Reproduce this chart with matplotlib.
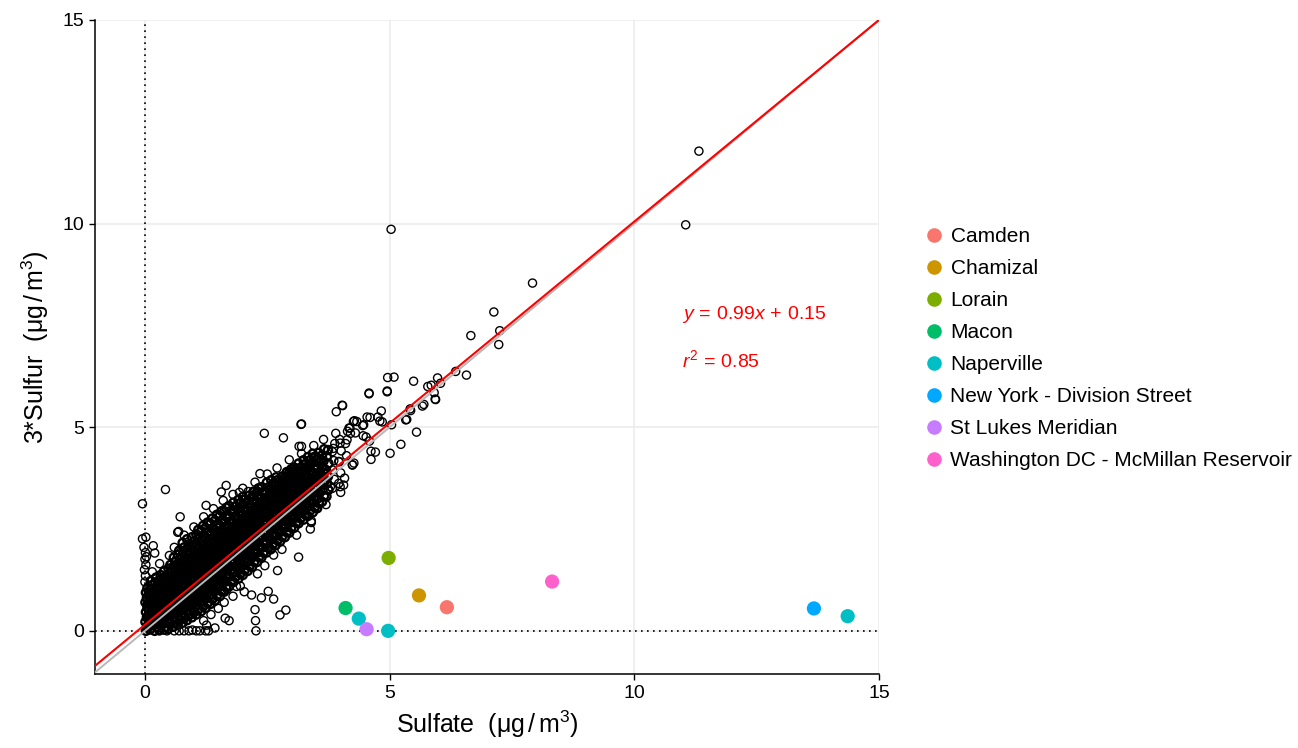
import matplotlib
matplotlib.use("Agg")
import matplotlib.pyplot as plt
from matplotlib.lines import Line2D

plt.rcParams['font.family'] = ['Liberation Sans', 'DejaVu Sans']
plt.rcParams['mathtext.fontset'] = 'custom'
plt.rcParams['mathtext.rm'] = 'Liberation Sans'
plt.rcParams['mathtext.it'] = 'Liberation Sans:italic'
plt.rcParams['mathtext.bf'] = 'Liberation Sans:bold'

# ---------------- data ----------------
# dense band of daily samples, by sulfate range
band_low = [
    (0.02,0.0),(0.05,0.1),(0.01,0.22),(0.04,0.33),(0.02,0.46),(0.05,0.57),(0.01,0.7),(0.04,0.81),(0.02,0.94),(0.05,1.05),
    (0.10,0.03),(0.14,0.15),(0.11,0.27),(0.13,0.4),(0.09,0.52),(0.14,0.64),(0.11,0.77),(0.13,0.89),(0.10,1.0),(0.14,1.12),(0.12,1.22),
    (0.20,0.0),(0.24,0.09),(0.21,0.21),(0.23,0.34),(0.19,0.46),(0.24,0.58),(0.21,0.7),(0.23,0.83),(0.20,0.95),(0.24,1.07),(0.21,1.19),(0.23,1.31),
    (0.29,0.02),(0.33,0.14),(0.30,0.26),(0.32,0.39),(0.28,0.51),(0.33,0.63),(0.30,0.75),(0.32,0.88),(0.29,1.0),(0.33,1.12),(0.30,1.25),(0.32,1.37),
    (0.39,0.03),(0.43,0.1),(0.40,0.22),(0.42,0.35),(0.38,0.47),(0.43,0.59),(0.40,0.71),(0.42,0.84),(0.39,0.96),(0.43,1.08),(0.40,1.21),(0.42,1.33),(0.39,1.46),
    (0.48,0.05),(0.52,0.17),(0.49,0.29),(0.51,0.42),(0.47,0.54),(0.52,0.66),(0.49,0.79),(0.51,0.91),(0.48,1.03),(0.52,1.16),(0.49,1.28),(0.51,1.41),(0.48,1.53),(0.52,1.62),
    (0.58,0.1),(0.62,0.21),(0.59,0.33),(0.61,0.46),(0.57,0.58),(0.62,0.7),(0.59,0.83),(0.61,0.95),(0.58,1.07),(0.62,1.2),(0.59,1.32),(0.61,1.45),(0.58,1.57),(0.62,1.69),(0.59,1.8),
    (0.67,0.15),(0.71,0.27),(0.68,0.39),(0.70,0.52),(0.66,0.64),(0.71,0.76),(0.68,0.89),(0.70,1.01),(0.67,1.13),(0.71,1.26),(0.68,1.38),(0.70,1.51),(0.67,1.63),(0.71,1.75),(0.68,1.87),(0.70,1.97),
    (0.77,0.2),(0.81,0.32),(0.78,0.44),(0.80,0.57),(0.76,0.69),(0.81,0.81),(0.78,0.94),(0.80,1.06),(0.77,1.18),(0.81,1.31),(0.78,1.43),(0.80,1.56),(0.77,1.68),(0.81,1.8),(0.78,1.93),(0.80,2.05),(0.77,2.16),
    (0.86,0.26),(0.90,0.38),(0.87,0.5),(0.89,0.63),(0.85,0.75),(0.90,0.87),(0.87,1.0),(0.89,1.12),(0.86,1.24),(0.90,1.37),(0.87,1.49),(0.89,1.62),(0.86,1.74),(0.90,1.86),(0.87,1.99),(0.89,2.11),(0.86,2.25),
    (0.96,0.33),(1.00,0.45),(0.97,0.57),(0.99,0.7),(0.95,0.82),(1.00,0.94),(0.97,1.07),(0.99,1.19),(0.96,1.31),(1.00,1.44),(0.97,1.56),(0.99,1.69),(0.96,1.81),(1.00,1.93),(0.97,2.06),(0.99,2.18),(0.96,2.3),
]
band_mid = [
    (1.05,0.4),(1.09,0.52),(1.06,0.64),(1.08,0.77),(1.04,0.89),(1.09,1.01),(1.06,1.14),(1.08,1.26),(1.05,1.38),(1.09,1.51),(1.06,1.63),(1.08,1.76),(1.05,1.88),(1.09,2.0),(1.06,2.13),(1.08,2.25),(1.05,2.37),(1.09,2.48),
    (1.15,0.48),(1.19,0.6),(1.16,0.72),(1.18,0.85),(1.14,0.97),(1.19,1.09),(1.16,1.22),(1.18,1.34),(1.15,1.46),(1.19,1.59),(1.16,1.71),(1.18,1.84),(1.15,1.96),(1.19,2.08),(1.16,2.21),(1.18,2.33),(1.15,2.45),(1.19,2.58),
    (1.24,0.56),(1.28,0.68),(1.25,0.8),(1.27,0.93),(1.23,1.05),(1.28,1.17),(1.25,1.3),(1.27,1.42),(1.24,1.54),(1.28,1.67),(1.25,1.79),(1.27,1.92),(1.24,2.04),(1.28,2.16),(1.25,2.29),(1.27,2.41),(1.24,2.53),(1.28,2.66),
    (1.34,0.66),(1.38,0.78),(1.35,0.9),(1.37,1.03),(1.33,1.15),(1.38,1.27),(1.35,1.4),(1.37,1.52),(1.34,1.64),(1.38,1.77),(1.35,1.89),(1.37,2.02),(1.34,2.14),(1.38,2.26),(1.35,2.39),(1.37,2.51),(1.34,2.63),(1.38,2.76),
    (1.43,0.74),(1.47,0.86),(1.44,0.98),(1.46,1.11),(1.42,1.23),(1.47,1.35),(1.44,1.48),(1.46,1.6),(1.43,1.72),(1.47,1.85),(1.44,1.97),(1.46,2.1),(1.43,2.22),(1.47,2.34),(1.44,2.47),(1.46,2.59),(1.43,2.71),(1.47,2.85),
    (1.53,0.85),(1.57,0.97),(1.54,1.09),(1.56,1.22),(1.52,1.34),(1.57,1.46),(1.54,1.59),(1.56,1.71),(1.53,1.83),(1.57,1.96),(1.54,2.08),(1.56,2.21),(1.53,2.33),(1.57,2.45),(1.54,2.58),(1.56,2.7),(1.53,2.82),(1.57,2.94),
    (1.62,0.96),(1.66,1.08),(1.63,1.2),(1.65,1.33),(1.61,1.45),(1.66,1.57),(1.63,1.7),(1.65,1.82),(1.62,1.94),(1.66,2.07),(1.63,2.19),(1.65,2.32),(1.62,2.44),(1.66,2.56),(1.63,2.69),(1.65,2.81),(1.62,2.93),(1.66,3.02),
    (1.72,1.09),(1.76,1.21),(1.73,1.33),(1.75,1.46),(1.71,1.58),(1.76,1.7),(1.73,1.83),(1.75,1.95),(1.72,2.07),(1.76,2.2),(1.73,2.32),(1.75,2.45),(1.72,2.57),(1.76,2.69),(1.73,2.82),(1.75,2.94),(1.72,3.07),
    (1.81,1.2),(1.85,1.32),(1.82,1.44),(1.84,1.57),(1.80,1.69),(1.85,1.81),(1.82,1.94),(1.84,2.06),(1.81,2.18),(1.85,2.31),(1.82,2.43),(1.84,2.56),(1.81,2.68),(1.85,2.8),(1.82,2.93),(1.84,3.05),(1.81,3.15),
    (1.91,1.28),(1.95,1.4),(1.92,1.52),(1.94,1.65),(1.90,1.77),(1.95,1.89),(1.92,2.02),(1.94,2.14),(1.91,2.26),(1.95,2.39),(1.92,2.51),(1.94,2.64),(1.91,2.76),(1.95,2.88),(1.92,3.01),(1.94,3.13),(1.91,3.22),
    (2.00,1.37),(2.04,1.49),(2.01,1.61),(2.03,1.74),(1.99,1.86),(2.04,1.98),(2.01,2.11),(2.03,2.23),(2.00,2.35),(2.04,2.48),(2.01,2.6),(2.03,2.73),(2.00,2.85),(2.04,2.97),(2.01,3.1),(2.03,3.22),(2.00,3.29),
]
band_high = [
    (2.10,1.47),(2.14,1.59),(2.11,1.71),(2.13,1.84),(2.09,1.96),(2.14,2.08),(2.11,2.21),(2.13,2.33),(2.10,2.45),(2.14,2.58),(2.11,2.7),(2.13,2.83),(2.10,2.95),(2.14,3.07),(2.11,3.2),(2.13,3.32),
    (2.19,1.57),(2.23,1.69),(2.20,1.81),(2.22,1.94),(2.18,2.06),(2.23,2.18),(2.20,2.31),(2.22,2.43),(2.19,2.55),(2.23,2.68),(2.20,2.8),(2.22,2.93),(2.19,3.05),(2.23,3.17),(2.20,3.3),(2.22,3.42),
    (2.29,1.69),(2.33,1.81),(2.30,1.93),(2.32,2.06),(2.28,2.18),(2.33,2.3),(2.30,2.43),(2.32,2.55),(2.29,2.67),(2.33,2.8),(2.30,2.92),(2.32,3.05),(2.29,3.17),(2.33,3.29),(2.30,3.42),(2.32,3.5),
    (2.38,1.8),(2.42,1.92),(2.39,2.04),(2.41,2.17),(2.37,2.29),(2.42,2.41),(2.39,2.54),(2.41,2.66),(2.38,2.78),(2.42,2.91),(2.39,3.03),(2.41,3.16),(2.38,3.28),(2.42,3.4),(2.39,3.53),
    (2.48,1.92),(2.52,2.04),(2.49,2.16),(2.51,2.29),(2.47,2.41),(2.52,2.53),(2.49,2.66),(2.51,2.78),(2.48,2.9),(2.52,3.03),(2.49,3.15),(2.51,3.28),(2.48,3.4),(2.52,3.52),(2.49,3.64),
    (2.57,2.0),(2.61,2.12),(2.58,2.24),(2.60,2.37),(2.56,2.49),(2.61,2.61),(2.58,2.74),(2.60,2.86),(2.57,2.98),(2.61,3.11),(2.58,3.23),(2.60,3.36),(2.57,3.48),(2.61,3.6),(2.58,3.7),
    (2.67,2.1),(2.71,2.22),(2.68,2.34),(2.70,2.47),(2.66,2.59),(2.71,2.71),(2.68,2.84),(2.70,2.96),(2.67,3.08),(2.71,3.21),(2.68,3.33),(2.70,3.46),(2.67,3.58),(2.71,3.7),(2.68,3.77),
    (2.76,2.19),(2.80,2.31),(2.77,2.43),(2.79,2.56),(2.75,2.68),(2.80,2.8),(2.77,2.93),(2.79,3.05),(2.76,3.17),(2.80,3.3),(2.77,3.42),(2.79,3.55),(2.76,3.67),(2.80,3.79),
    (2.86,2.3),(2.90,2.42),(2.87,2.54),(2.89,2.67),(2.85,2.79),(2.90,2.91),(2.87,3.04),(2.89,3.16),(2.86,3.28),(2.90,3.41),(2.87,3.53),(2.89,3.66),(2.86,3.78),(2.90,3.9),
    (2.95,2.41),(2.99,2.53),(2.96,2.65),(2.98,2.78),(2.94,2.9),(2.99,3.02),(2.96,3.15),(2.98,3.27),(2.95,3.39),(2.99,3.52),(2.96,3.64),(2.98,3.77),(2.95,3.89),(2.99,3.97),
    (3.05,2.53),(3.09,2.65),(3.06,2.77),(3.08,2.9),(3.04,3.02),(3.09,3.14),(3.06,3.27),(3.08,3.39),(3.05,3.51),(3.09,3.64),(3.06,3.76),(3.08,3.89),(3.05,4.01),
    (3.14,2.64),(3.18,2.76),(3.15,2.88),(3.17,3.01),(3.13,3.13),(3.18,3.25),(3.15,3.38),(3.17,3.5),(3.14,3.62),(3.18,3.75),(3.15,3.87),(3.17,4.0),(3.14,4.11),
    (3.24,2.73),(3.28,2.85),(3.25,2.97),(3.27,3.1),(3.23,3.22),(3.28,3.34),(3.25,3.47),(3.27,3.59),(3.24,3.71),(3.28,3.84),(3.25,3.96),(3.27,4.09),(3.24,4.19),
    (3.33,2.82),(3.37,2.94),(3.34,3.06),(3.36,3.19),(3.32,3.31),(3.37,3.43),(3.34,3.56),(3.36,3.68),(3.33,3.8),(3.37,3.93),(3.34,4.05),(3.36,4.18),(3.33,4.27),
    (3.43,2.91),(3.47,3.03),(3.44,3.15),(3.46,3.28),(3.42,3.4),(3.47,3.52),(3.44,3.65),(3.46,3.77),(3.43,3.89),(3.47,4.02),(3.44,4.14),(3.46,4.27),(3.43,4.35),
    (3.52,3.01),(3.56,3.13),(3.53,3.25),(3.55,3.38),(3.51,3.5),(3.56,3.62),(3.53,3.75),(3.55,3.87),(3.52,3.99),(3.56,4.12),(3.53,4.24),(3.55,4.37),
    (3.62,3.17),(3.66,3.31),(3.63,3.45),(3.65,3.6),(3.61,3.74),(3.66,3.88),(3.63,4.03),(3.65,4.17),(3.62,4.31),(3.66,4.46),
    (3.71,3.3),(3.75,3.46),(3.72,3.62),(3.74,3.79),(3.70,3.95),(3.75,4.11),(3.72,4.28),(3.74,4.44),
]
# extra samples in the darkest part of the band
band_core = [
    (0.16,0.35),(0.18,0.6),(0.26,0.5),(0.27,0.8),(0.36,0.45),(0.36,0.75),(0.45,0.5),(0.45,0.95),(0.55,0.6),(0.55,1.0),(0.64,0.7),(0.64,1.1),
    (0.73,0.8),(0.74,1.25),(0.83,0.9),(0.84,1.35),(0.93,1.0),(0.92,1.5),(1.02,1.1),(1.02,1.6),(1.12,1.2),(1.11,1.7),(1.21,1.3),(1.21,1.85),
    (1.30,1.45),(1.31,1.95),(1.40,1.55),(1.40,2.05),(1.50,1.65),(1.49,2.15),(1.59,1.75),(1.60,2.25),(1.69,1.9),(1.68,2.4),(1.78,2.0),(1.79,2.5),
    (1.88,2.1),(1.87,2.6),(1.97,2.2),(1.98,2.7),(2.07,2.3),(2.06,2.8),(2.16,2.4),(2.17,2.9),(2.26,2.5),(2.25,3.0),(2.35,2.6),(2.36,3.1),
    (2.45,2.7),(2.44,3.2),(2.54,2.8),(2.55,3.3),(2.64,2.9),(2.63,3.4),(2.73,3.0),(2.74,3.5),(2.83,3.1),(2.82,3.6),(2.92,3.2),(2.93,3.7),
    (3.02,3.3),(3.01,3.8),(3.11,3.4),(3.12,3.9),(3.21,3.5),(3.20,3.95),(3.30,3.6),(3.31,4.0),(3.40,3.7),(3.39,4.1),(3.49,3.8),(3.58,3.9),
]
band_core_inner = [
    (0.07,0.16),(0.08,0.41),(0.06,0.66),(0.08,0.91),
    (0.17,0.2),(0.16,0.45),(0.18,0.7),(0.17,0.95),
    (0.26,0.24),(0.27,0.5),(0.25,0.76),(0.27,1.02),
    (0.36,0.3),(0.35,0.56),(0.37,0.82),(0.36,1.08),
    (0.45,0.36),(0.46,0.62),(0.44,0.88),(0.46,1.14),
    (0.55,0.42),(0.54,0.68),(0.56,0.94),(0.55,1.2),(0.54,1.46),
    (0.64,0.48),(0.65,0.74),(0.63,1.0),(0.65,1.26),(0.64,1.52),
    (0.74,0.55),(0.73,0.81),(0.75,1.07),(0.74,1.33),(0.73,1.59),
    (0.83,0.62),(0.84,0.88),(0.82,1.14),(0.84,1.4),(0.83,1.66),
    (0.93,0.7),(0.92,0.96),(0.94,1.22),(0.93,1.48),(0.92,1.74),
    (1.02,0.78),(1.03,1.04),(1.01,1.3),(1.03,1.56),(1.02,1.82),
    (1.12,0.86),(1.11,1.12),(1.13,1.38),(1.12,1.64),(1.11,1.9),
    (1.21,0.94),(1.22,1.2),(1.20,1.46),(1.22,1.72),(1.21,1.98),
    (1.31,1.03),(1.30,1.29),(1.32,1.55),(1.31,1.81),(1.30,2.07),
    (1.40,1.12),(1.41,1.38),(1.39,1.64),(1.41,1.9),(1.40,2.16),
    (1.50,1.21),(1.49,1.47),(1.51,1.73),(1.50,1.99),(1.49,2.25),
    (1.59,1.3),(1.60,1.56),(1.58,1.82),(1.60,2.08),(1.59,2.34),
    (1.69,1.4),(1.68,1.66),(1.70,1.92),(1.69,2.18),(1.68,2.44),
    (1.78,1.5),(1.79,1.76),(1.77,2.02),(1.79,2.28),(1.78,2.54),
    (1.88,1.6),(1.87,1.86),(1.89,2.12),(1.88,2.38),(1.87,2.64),
    (1.97,1.7),(1.98,1.96),(1.96,2.22),(1.98,2.48),(1.97,2.74),
    (2.07,1.8),(2.06,2.06),(2.08,2.32),(2.07,2.58),(2.06,2.84),
    (2.16,1.9),(2.17,2.16),(2.15,2.42),(2.17,2.68),(2.16,2.94),
    (2.26,2.0),(2.25,2.26),(2.27,2.52),(2.26,2.78),(2.25,3.04),
    (2.35,2.1),(2.36,2.36),(2.34,2.62),(2.36,2.88),(2.35,3.14),
    (2.45,2.2),(2.44,2.46),(2.46,2.72),(2.45,2.98),(2.44,3.24),
    (2.54,2.3),(2.55,2.56),(2.53,2.82),(2.55,3.08),(2.54,3.34),
    (2.64,2.4),(2.63,2.66),(2.65,2.92),(2.64,3.18),(2.63,3.44),
    (2.73,2.5),(2.74,2.76),(2.72,3.02),(2.74,3.28),(2.73,3.54),
    (2.83,2.62),(2.82,2.88),(2.84,3.14),(2.83,3.4),(2.82,3.66),
    (2.92,2.74),(2.93,3.0),(2.91,3.26),(2.93,3.52),(2.92,3.78),
    (3.02,2.86),(3.01,3.12),(3.03,3.38),(3.02,3.64),(3.01,3.9),
    (3.11,2.98),(3.12,3.24),(3.10,3.5),(3.12,3.76),
    (3.21,3.1),(3.20,3.36),(3.22,3.62),(3.21,3.88),
    (3.30,3.22),(3.31,3.48),(3.29,3.74),(3.31,4.0),
    (3.40,3.34),(3.39,3.6),(3.41,3.86),
    (3.49,3.46),(3.50,3.72),(3.48,3.98),
    (3.59,3.58),(3.58,3.84),(3.68,3.7),(3.67,3.96),
]
# sparser top end of the band
band_tail = [
    (3.83,3.5),(3.87,3.72),(3.84,3.95),(3.86,4.18),(3.83,4.4),(3.88,4.6),
    (3.96,3.62),(4.0,3.88),(3.97,4.15),(4.01,4.42),(3.98,4.7),
    (4.08,3.75),(4.12,4.3),(4.1,4.6),(4.14,4.9),
]
# samples along the axes (one species near zero)
axis_points = [
    (0.0,1.2),(0.01,1.35),(-0.01,1.5),(0.02,1.62),(0.0,1.76),(0.03,1.82),(0.01,1.92),(-0.02,2.05),(-0.05,2.26),(-0.05,3.12),(0.02,2.3),
    (0.3,0.0),(0.45,0.0),(0.6,0.0),(0.7,0.0),(0.8,0.0),(0.9,0.0),(0.97,0.02),(1.05,0.0),(1.12,0.0),(1.24,0.0),(1.30,0.0),
    (1.43,0.07),(1.26,0.14),(1.64,0.31),(1.72,0.25),(2.27,0.0),(2.26,0.25),(2.25,0.52),
]
# scattered fringe and outliers
fringe_points = [
    (0.15,1.45),(0.3,1.65),(0.5,1.85),(0.6,2.05),(0.8,2.35),(1.0,2.55),(1.2,2.8),(1.4,3.0),(1.6,3.2),(1.8,3.35),(2.0,3.5),
    (2.25,3.65),(2.5,3.85),(2.7,4.0),(2.95,4.2),(3.2,4.35),(3.45,4.55),(3.65,4.7),(3.9,4.85),
    (1.2,0.25),(1.35,0.4),(1.5,0.55),(1.62,0.7),(1.8,0.85),(1.95,1.1),(2.3,1.4),(2.45,1.6),(2.8,2.0),(3.1,2.35),(3.4,2.7),(3.7,3.1),(4.0,3.4),
    (0.42,3.47),(2.44,4.85),(2.83,4.74),(3.19,5.07),(3.15,4.53),(3.91,5.38),(4.04,5.53),(4.58,5.82),(4.95,5.87),(2.35,3.86),
    (0.72,2.80),(1.25,3.08),(1.56,3.41),(1.66,3.57),(1.93,3.40),(2.11,3.42),(0.67,2.42),(0.69,2.44),(0.17,2.09),(0.20,1.91),
    (3.14,1.81),(2.71,1.48),(2.63,1.86),(3.38,2.50),(3.40,2.66),(3.47,3.03),(4.06,3.58),(4.24,4.07),
    (2.76,0.39),(2.88,0.51),(2.52,0.97),(2.63,0.78),(2.38,0.81),(2.03,0.96),(2.18,0.88),(1.87,1.09),(1.68,1.02),
    (4.13,4.69),(3.99,4.61),(3.85,4.48),(3.96,4.16),(4.27,4.12),(3.79,3.54),(3.99,3.54),(3.67,3.71),
    (3.24,3.99),(3.03,3.95),(2.9,3.79),(3.44,4.24),
    (5.33,5.18),(5.67,5.52),(5.93,5.69),(4.54,5.25),(4.33,5.14),(4.26,5.14),(4.47,5.06),(4.17,4.98),(4.2,4.85),(4.3,4.86),
    (4.62,4.41),(4.71,4.39),(5.42,5.45),(5.78,6.0),(6.04,6.08),(4.76,5.25),(4.8,5.15),(4.85,5.13),(4.28,5.16),(4.45,5.04),
    (5.04,5.06),(5.35,5.19),(5.43,5.41),(5.55,4.88),(5.23,4.58),(5.01,4.36),(4.62,4.21),(4.24,4.08),(4.59,4.66),(4.46,4.79),
    (4.52,4.76),(3.20,5.08),(3.20,4.53),(4.03,5.54),(4.83,5.40),(4.60,5.24),(4.19,4.98),(4.58,5.84),(4.95,5.89),
    (5.49,6.13),(4.96,6.22),(5.09,6.23),(5.70,5.56),(5.94,5.68),(5.91,5.85),(5.85,6.03),(5.98,6.21),(6.35,6.37),(6.57,6.28),
    (6.66,7.25),(7.25,7.37),(7.23,7.03),(7.13,7.83),(7.92,8.54),(5.03,9.86),(11.05,9.97),(11.32,11.78),
]

# flagged sites (coloured)
site_names = ["Camden", "Chamizal", "Lorain", "Macon", "Naperville",
              "New York - Division Street", "St Lukes Meridian",
              "Washington DC - McMillan Reservoir"]
site_colors = ["#F8766D", "#CD9600", "#7CAE00", "#00BE67", "#00BFC4",
               "#00A9FF", "#C77CFF", "#FF61CC"]
site_sulfate = [[6.17], [5.60], [4.98], [4.10], [4.37, 4.97, 14.36], [13.67], [4.53], [8.32]]
site_sulfur = [[0.58], [0.87], [1.79], [0.56], [0.30, 0.0, 0.36], [0.55], [0.04], [1.21]]

fit_slope = 0.99
fit_intercept = 0.15
fit_r2 = 0.85

x_limits = (-1.02, 15.0)
y_limits = (-1.06, 15.0)
ticks = [0, 5, 10, 15]

# ---------------- plot ----------------
fig = plt.figure(figsize=(12.98, 7.48), dpi=100)
ax = fig.add_axes([95/1298, 74/748, 784/1298, 654/748])
ax.set_xlim(*x_limits)
ax.set_ylim(*y_limits)
ax.set_xticks(ticks)
ax.set_yticks(ticks)
ax.grid(True, color="#EBEBEB", linewidth=1.1, zorder=0)
ax.set_axisbelow(True)
for s in ["top", "right"]:
    ax.spines[s].set_visible(False)
for s in ["left", "bottom"]:
    ax.spines[s].set_linewidth(1.1)
    ax.spines[s].set_color("black")
ax.tick_params(axis="both", colors="black", labelsize=14, length=4, width=1.0, pad=4)

ax.axvline(0, color="black", linestyle=(0, (1, 2.6)), linewidth=1.2, zorder=1)
ax.axhline(0, color="black", linestyle=(0, (1, 2.6)), linewidth=1.2, zorder=1)

# dense band: overlapping rings render as a solid mass
dense = band_low + band_mid + band_high + band_core + band_core_inner
ax.scatter([p[0] for p in dense], [p[1] for p in dense], s=34, facecolors="none",
           edgecolors="black", linewidths=1.7, zorder=2)
sparse = band_tail + axis_points + fringe_points
ax.scatter([p[0] for p in sparse], [p[1] for p in sparse], s=34, facecolors="none",
           edgecolors="black", linewidths=1.0, zorder=2)

xs = list(x_limits)
ax.plot(xs, xs, color="#B8B8B8", linewidth=1.4, zorder=3)
ax.plot(xs, [fit_slope * v + fit_intercept for v in xs], color="#FF0000", linewidth=1.5, zorder=4)

for name, col, sx, sy in zip(site_names, site_colors, site_sulfate, site_sulfur):
    ax.scatter(sx, sy, s=105, color=col, edgecolors="none", zorder=5, label=name)

ax.text(10.97, 7.76, r"$y\,=\,0.99x\,+\,0.15$", color="#FF0000", fontsize=14, va="center", ha="left")
ax.text(10.97, 6.65, r"$r^2\,=\,0.85$", color="#FF0000", fontsize=14, va="center", ha="left")

ax.set_xlabel(r"Sulfate  (μg$\,/\,$m$^3$)", fontsize=18, labelpad=5)
ax.set_ylabel(r"3*Sulfur  (μg$\,/\,$m$^3$)", fontsize=18, labelpad=8)

handles = [Line2D([0], [0], marker="o", linestyle="none", markersize=10.5,
                  markerfacecolor=c, markeredgecolor="none") for c in site_colors]
fig.legend(handles, site_names, loc="upper left", bbox_to_anchor=(913/1298, 1 - 217/748),
           frameon=False, fontsize=15, labelspacing=0.62, handletextpad=0.3,
           handlelength=1.0, borderpad=0)

fig.savefig("out.png", dpi=100)
